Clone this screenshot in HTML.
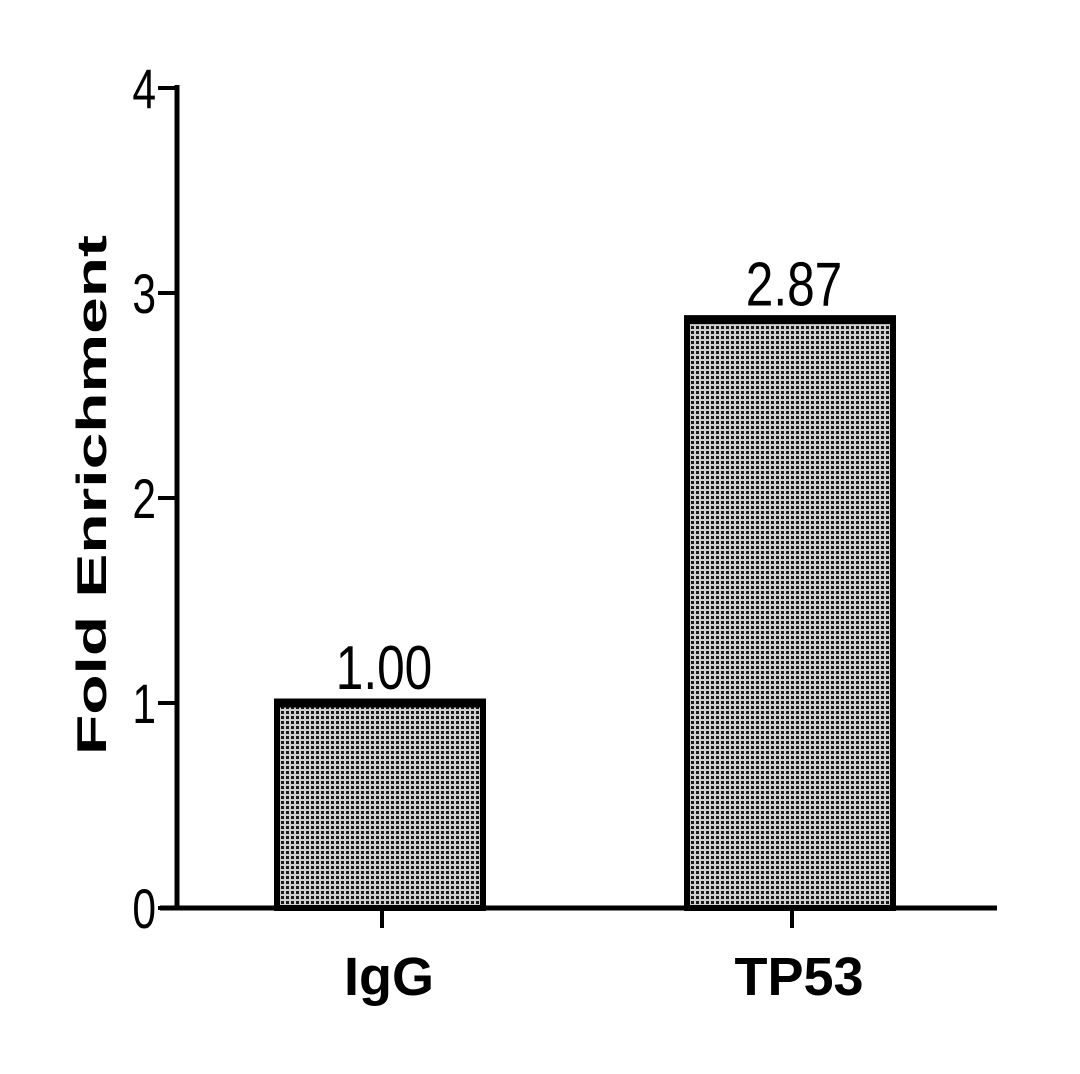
<!DOCTYPE html>
<html><head><meta charset="utf-8"><style>
body{margin:0;background:#fff}
svg text{font-family:"Liberation Sans",Arial,sans-serif}
</style></head><body>
<svg id="chart" width="1080" height="1069" viewBox="0 0 1080 1069">
<defs>
<pattern id="dots" width="5" height="5" patternUnits="userSpaceOnUse">
<rect width="5" height="5" fill="#d0d0d0"/>
<rect x="1" y="1" width="3" height="3" fill="#1a1a1a"/>
</pattern>
</defs>
<g id="plot"></g>
</svg>
<script>
const categories=["IgG","TP53"];
const values=[1.00,2.87];
const valueLabels=["1.00","2.87"];
const yTicks=[0,1,2,3,4];
const ns="http://www.w3.org/2000/svg";
const g=document.getElementById('plot');
const y0=908,pxPer=205,xAxis=177;
const y=v=>y0-v*pxPer;
const xCenter=i=>380+i*410;
const bw=206;
function mk(t,a){const e=document.createElementNS(ns,t);for(const k in a)e.setAttribute(k,a[k]);g.appendChild(e);return e;}
let e=mk('line',{x1:xAxis,y1:y(4)-3,x2:xAxis,y2:y0+2,stroke:'#000','stroke-width':5});


yTicks.forEach(t=>{
 let l=mk('line',{x1:158,y1:y(t),x2:xAxis,y2:y(t),stroke:'#000','stroke-width':4});
 
 
 let tx=mk('text',{x:0,y:0,'text-anchor':'end','font-size':56,transform:`translate(156,${y(t)+20}) scale(0.76,1)`});
 tx.textContent=t;
 
 
});
categories.forEach((c,i)=>{
 const cx=xCenter(i);
 let r=mk('rect',{x:cx-bw/2,y:y(values[i]),width:bw,height:y0-y(values[i]),fill:'url(#dots)',stroke:'#000','stroke-width':6});
 
 
 let top=mk('line',{x1:cx-bw/2-3,y1:y(values[i]),x2:cx+bw/2+3,y2:y(values[i]),stroke:'#000','stroke-width':9});
 
 
 let v=mk('text',{x:0,y:0,'text-anchor':'middle','font-size':62,transform:`translate(${cx+4},${y(values[i])-14}) scale(0.8,1)`});
 v.textContent=valueLabels[i];
 
 
 let tk=mk('line',{x1:cx+2,y1:y0,x2:cx+2,y2:928,stroke:'#000','stroke-width':4});
 
 
 let lb=mk('text',{x:cx+9,y:995,'text-anchor':'middle','font-size':54,'font-weight':'bold'});
 lb.textContent=c;
 
 
});
e=mk('line',{x1:160,y1:y0,x2:997,y2:y0,stroke:'#000','stroke-width':5});


e=mk('text',{x:0,y:0,'text-anchor':'middle','font-size':42,'font-weight':'bold',textLength:520,lengthAdjust:'spacingAndGlyphs',transform:'translate(106,495) rotate(-90)'});
e.textContent='Fold Enrichment';


</script>
</body></html>
